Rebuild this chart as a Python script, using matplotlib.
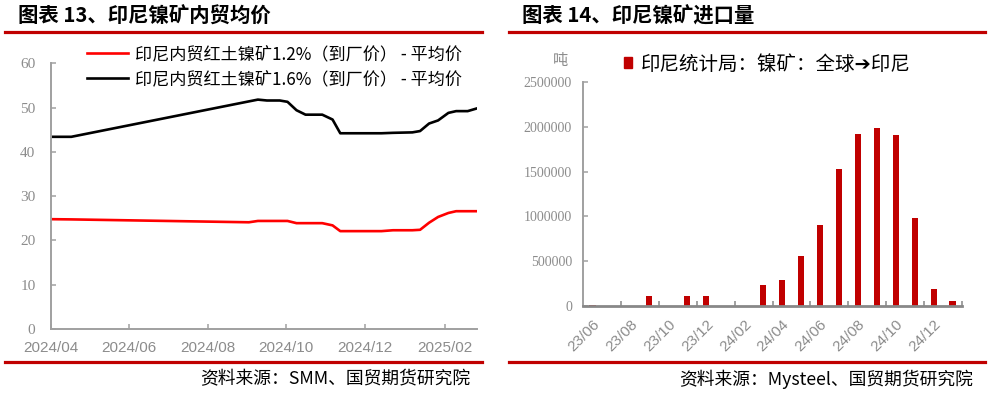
import matplotlib
matplotlib.use('Agg')
import matplotlib.pyplot as plt
import numpy as np
import pandas as pd
from matplotlib.lines import Line2D
from matplotlib.patches import Patch

plt.rcParams['font.family'] = ['Noto Sans CJK SC', 'DejaVu Sans']

# ---- chart 13: 印尼镍矿内贸均价 ----
price_dates = ['2024-04-01', '2024-04-17', '2024-09-02', '2024-09-09', '2024-09-16',
               '2024-09-26', '2024-10-02', '2024-10-09', '2024-10-16', '2024-10-29',
               '2024-11-06', '2024-11-12', '2024-12-14', '2024-12-23', '2025-01-07',
               '2025-01-13', '2025-01-20', '2025-01-27', '2025-02-04', '2025-02-10',
               '2025-02-19', '2025-02-26']
ore_12 = [24.8, 24.75, 24.1, 24.4, 24.4, 24.4, 24.4, 23.9, 23.9, 23.9,
          23.4, 22.1, 22.1, 22.3, 22.3, 22.4, 24.0, 25.3, 26.2, 26.6, 26.6, 26.6]
ore_16 = [43.4, 43.4, 51.4, 51.8, 51.6, 51.6, 51.3, 49.4, 48.4, 48.4,
          47.3, 44.2, 44.2, 44.3, 44.4, 44.7, 46.4, 47.1, 48.8, 49.2, 49.2, 49.8]
date_ticks = ['2024-04-01', '2024-06-01', '2024-08-01', '2024-10-01', '2024-12-01', '2025-02-01']
date_labels = ['2024/04', '2024/06', '2024/08', '2024/10', '2024/12', '2025/02']
label_12 = '印尼内贸红土镍矿1.2%（到厂价） - 平均价'
label_16 = '印尼内贸红土镍矿1.6%（到厂价） - 平均价'

# ---- chart 14: 印尼镍矿进口量 ----
months = ['23/06', '23/07', '23/08', '23/09', '23/10', '23/11', '23/12', '24/01', '24/02', '24/03',
          '24/04', '24/05', '24/06', '24/07', '24/08', '24/09', '24/10', '24/11', '24/12', '25/01']
imports = [8000, 0, 0, 110000, 0, 110000, 105000, 0, 0, 231000,
           284000, 556000, 899000, 1532000, 1920000, 1985000, 1905000, 977000, 187000, 56000]
import_label = '印尼统计局：镍矿：全球➔印尼'

W, H = 991, 404
red = '#C00000'
gray = '#A0A0A0'
tgray = '#8C8C8C'

fig = plt.figure(figsize=(W / 100, H / 100), dpi=100)

def fx(px):
    return px / W

def fy(py):
    return 1 - py / H

# headers and separators
for x0, x1, title, src in [(5, 482, '图表 13、印尼镍矿内贸均价', '资料来源：SMM、国贸期货研究院'),
                           (509, 985, '图表 14、印尼镍矿进口量', '资料来源：Mysteel、国贸期货研究院')]:
    fig.text(fx(x0 + 13), fy(16), title, fontsize=14.7, fontweight='bold', va='center', ha='left')
    fig.add_artist(Line2D([fx(x0), fx(x1)], [fy(32), fy(32)], color=red, lw=2.3))
    fig.add_artist(Line2D([fx(x0), fx(x1)], [fy(361.5), fy(361.5)], color=red, lw=2.3))
    fig.text(fx(x1 - 12), fy(379), src, fontsize=12.8, va='center', ha='right')

# left chart
ax1 = fig.add_axes([fx(50.7), fy(329), fx(476.7 - 50.7), (329 - 63.3) / H])
d = pd.to_datetime(price_dates)
ax1.plot(d, ore_12, color='#FF0000', lw=1.9, label=label_12)
ax1.plot(d, ore_16, color='black', lw=1.9, label=label_16)
ax1.set_xlim(d[0], d[-1])
ax1.set_ylim(0, 60)
ax1.set_yticks(np.arange(0, 61, 10))
ax1.set_yticklabels([str(v) for v in range(0, 61, 10)], family='Liberation Serif',
                    fontsize=11, color=tgray)
ax1.set_xticks(pd.to_datetime(date_ticks))
ax1.set_xticklabels(date_labels, family='Liberation Sans', fontsize=11, color=tgray)
ax1.tick_params(axis='both', direction='in', length=3.5, color=gray, width=1.1)
ax1.tick_params(axis='y', pad=11)
ax1.tick_params(axis='x', pad=9)
for s in ['top', 'right']:
    ax1.spines[s].set_visible(False)
for s in ['left', 'bottom']:
    ax1.spines[s].set_color(gray)
    ax1.spines[s].set_linewidth(1.4)
ax1.legend(loc='upper left', bbox_to_anchor=(fx(87), fy(45)), bbox_transform=fig.transFigure,
           frameon=False, fontsize=12.3, handlelength=2.4, handletextpad=0.4,
           borderpad=0, borderaxespad=0, labelspacing=0.42)

# right chart
ax2 = fig.add_axes([fx(583), fy(305.7), fx(962 - 583), (305.7 - 82.3) / H])
xs = np.arange(len(months))
ax2.bar(xs, imports, width=0.32, color=red, label=import_label)
ax2.set_xlim(-0.5, len(months) - 0.5)
ax2.set_ylim(0, 2500000)
ax2.set_yticks(np.arange(0, 2500001, 500000))
ax2.set_yticklabels([str(v) for v in range(0, 2500001, 500000)], family='Liberation Serif',
                    fontsize=10, color=tgray)
ax2.set_xticks(xs[::2])
ax2.set_xticklabels(months[::2], family='Liberation Sans', fontsize=11, color=tgray,
                    rotation=45, ha='right', va='top', rotation_mode='anchor')
ax2.set_xticks(np.arange(1.5, len(months), 2), minor=True)
ax2.tick_params(axis='x', which='major', length=0, pad=8)
ax2.tick_params(axis='x', which='minor', direction='in', length=3.5, color=gray, width=1.4)
ax2.tick_params(axis='y', direction='in', length=3.5, color=gray, width=1.1, pad=8)
for s in ['top', 'right']:
    ax2.spines[s].set_visible(False)
ax2.spines['left'].set_color(gray)
ax2.spines['left'].set_linewidth(1.4)
ax2.spines['bottom'].set_color('#888888')
ax2.spines['bottom'].set_linewidth(2)
fig.text(fx(561), fy(61), '吨', fontsize=11, color=tgray, ha='center', va='center')
ax2.legend(handles=[Patch(color=red)], labels=[import_label], loc='center left',
           bbox_to_anchor=(fx(624), fy(64)), bbox_transform=fig.transFigure, frameon=False,
           fontsize=14, handlelength=0.43, handleheight=0.43, handletextpad=0.45,
           borderpad=0, borderaxespad=0)

fig.savefig('out.png', dpi=100)
